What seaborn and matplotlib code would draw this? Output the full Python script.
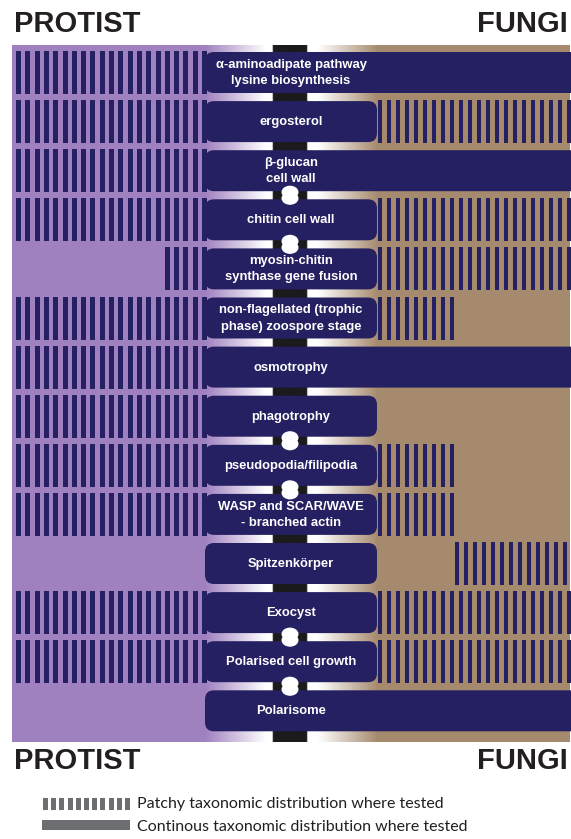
import numpy as np
import seaborn as sns
import matplotlib.pyplot as plt
from matplotlib.patches import FancyBboxPatch, Rectangle, Ellipse
from matplotlib.colors import to_rgb

sns.set_theme(style="white")
plt.rcParams['font.family'] = ['Liberation Sans', 'DejaVu Sans']

# traits, top to bottom
features = ['α-aminoadipate pathway\nlysine biosynthesis', 'ergosterol', 'β-glucan\ncell wall',
            'chitin cell wall', 'myosin-chitin\nsynthase gene fusion',
            'non-flagellated (trophic\nphase) zoospore stage', 'osmotrophy', 'phagotrophy',
            'pseudopodia/filipodia', 'WASP and SCAR/WAVE\n- branched actin', 'Spitzenkörper',
            'Exocyst', 'Polarised cell growth', 'Polarisome']
# patchy spread on protist side, as fraction of side width measured from the centre (start, end)
protist_patchy = [(0, 1), (0, 1), (0, 1), (0, 1), (0, 0.21), (0, 1), (0, 1), (0, 1),
                  (0, 1), (0, 1), None, (0, 1), (0, 1), None]
# fungal side: 'solid' = continuous, tuple = patchy range, None = absent
fungi_status = ['solid', (0, 1), 'solid', (0, 1), (0, 1), (0, 0.4), 'solid', None,
                (0, 0.4), (0, 0.4), (0.4, 1), (0, 1), (0, 1), 'solid']
# links drawn between row i and row i+1
links = [2, 3, 7, 8, 11, 12]

purple = '#a081c0'
brown = '#a68a6e'
navy = '#252061'
black = '#1b1a1c'
grey = '#6d6e71'

fig = plt.figure(figsize=(5.71, 8.39), dpi=100)
ax = fig.add_axes([0, 0, 1, 1])
ax.set_xlim(0, 571)
ax.set_ylim(839, 0)
ax.axis('off')

left0, left1 = 12, 205
right0, right1 = 378, 570
top, bottom = 45, 742
row0, pitch, box_h = 52, 49.1, 41

# side panels
ax.add_patch(Rectangle((left0, top), left1 - left0, bottom - top, color=purple, lw=0))
ax.add_patch(Rectangle((right0, top), right1 - right0, bottom - top, color=brown, lw=0))

# centre gradient with black strip
xs = np.linspace(left1, right0, 400)
stops_x = [205, 266, 272.5, 273, 307, 307.5, 318, 378]
stops_c = [purple, 'white', 'white', black, black, 'white', 'white', brown]
rgb = np.array([to_rgb(c) for c in stops_c])
grad = np.stack([np.interp(xs, stops_x, rgb[:, k]) for k in range(3)], axis=-1)[None, :, :]
ax.imshow(grad, extent=(left1, right0, bottom, top), aspect='auto', interpolation='bilinear')


def stripes(x_start, x_end, y, h, pitch_x=9.3, w=5):
    xs_ = np.arange(x_start, x_end - w + 0.1, pitch_x)
    ax.bar(xs_, h, width=w, bottom=y, align='edge', color=navy, lw=0)


for i, name in enumerate(features):
    y = row0 + i * pitch
    sy, sh = y - 1, box_h + 2
    pp = protist_patchy[i]
    if pp is not None:
        w_side = left1 - left0
        xa = left1 - pp[1] * w_side
        xb = left1 - pp[0] * w_side
        start = left0 + 4 + np.ceil((xa - left0 - 4) / 9.3) * 9.3
        stripes(start, xb + 5, sy, sh)
    fs = fungi_status[i]
    box_x1 = 377
    if fs == 'solid':
        box_x1 = 600
    elif fs is not None:
        w_side = right1 - right0
        xa = right0 + fs[0] * w_side
        xb = right0 + fs[1] * w_side
        stripes(xa, xb + 2, sy, sh, pitch_x=9.0, w=4.2)
    ax.add_patch(FancyBboxPatch((205, y), box_x1 - 205, box_h,
                                boxstyle='round,pad=0,rounding_size=9',
                                fc=navy, ec='none', zorder=3))
    ax.text(291, y + box_h / 2 + 0.5, name, color='white', fontsize=9.4, fontweight='bold',
            ha='center', va='center', linespacing=1.45, zorder=5)

for i in links:
    yb = row0 + i * pitch + box_h
    yt = row0 + (i + 1) * pitch
    ax.add_patch(Ellipse((290, yb + 1), 17, 13, color='white', lw=0, zorder=4))
    ax.add_patch(Ellipse((290, yt - 1), 17, 13, color='white', lw=0, zorder=4))
    ax.add_patch(Rectangle((285.5, yb), 9, yt - yb, color='white', lw=0, zorder=4))

# headings
for yy in (24, 761):
    ax.text(14, yy, 'PROTIST', fontsize=21, fontweight='bold', color='#231f20',
            ha='left', va='center')
    ax.text(568, yy, 'FUNGI', fontsize=21, fontweight='bold', color='#231f20',
            ha='right', va='center')

# legend
lx = np.arange(43, 131, 8.2)
ax.bar(lx, 12, width=5, bottom=798, align='edge', color=grey, lw=0)
ax.add_patch(Rectangle((42, 820), 88, 10, color=grey, lw=0))
ax.text(137, 804, 'Patchy taxonomic distribution where tested', fontsize=11.5,
        family=['Lato', 'DejaVu Sans'], color='#231f20', ha='left', va='center')
ax.text(137, 827, 'Continous taxonomic distribution where tested', fontsize=11.5,
        family=['Lato', 'DejaVu Sans'], color='#231f20', ha='left', va='center')

fig.savefig('out.png', dpi=100)
